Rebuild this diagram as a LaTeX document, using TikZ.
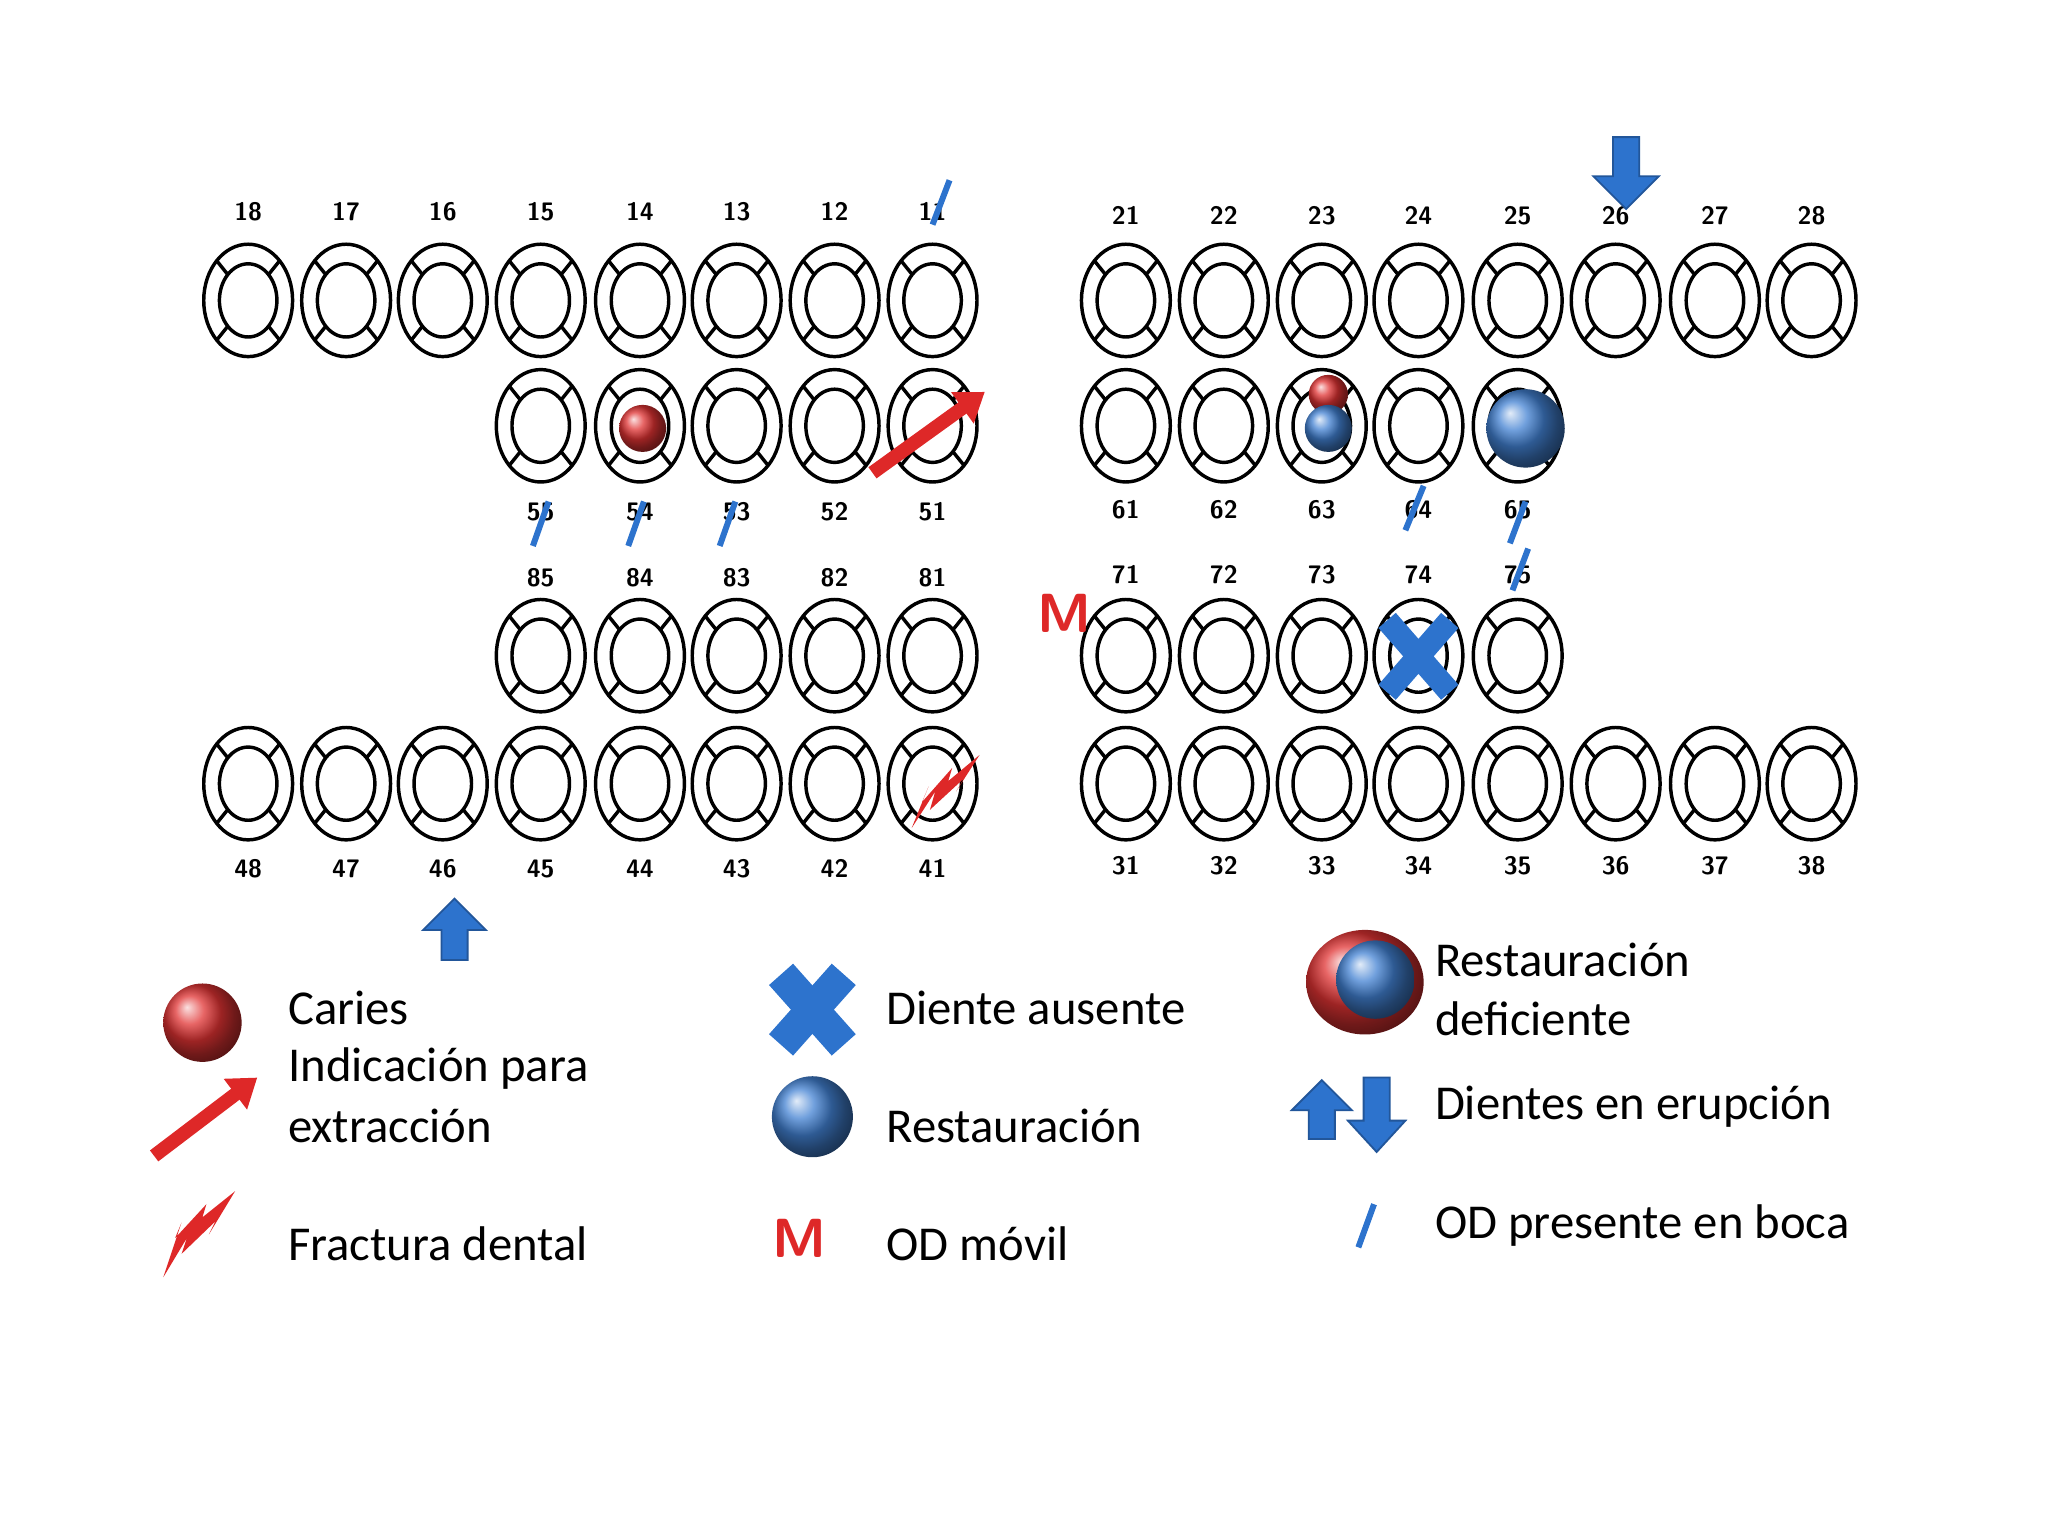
\documentclass[tikz,border=0pt]{standalone}
\usepackage{fontspec}
\setmainfont{Carlito}
\usetikzlibrary{shapes.geometric,arrows.meta}
\definecolor{rd}{RGB}{222,40,40}
\definecolor{bl}{RGB}{45,115,205}
\begin{document}
\begin{tikzpicture}[x=0.01cm,y=-0.01cm,
 tooth/.style={ellipse,draw,line width=0.75pt,minimum width=0.68cm,minimum height=0.86cm,inner sep=0pt,
  path picture={\draw[line width=0.75pt] (path picture bounding box.center) ellipse (0.22cm and 0.28cm);
   \foreach \sx/\sy in {1/1,1/-1,-1/1,-1/-1}{\draw[line width=0.75pt] ([shift={(\sx*15.6,\sy*19.8)}]path picture bounding box.center) -- ([shift={(\sx*25,\sy*31.5)}]path picture bounding box.center);}}},
 num/.style={font=\sffamily\bfseries\fontsize{5.5}{6}\selectfont,inner sep=0pt},
 lt/.style={anchor=west,font=\fontsize{10.6}{13}\selectfont,inner sep=0pt},
 slash/.style={draw=bl,line width=1.3pt},
 barrow/.style={fill=bl,draw=bl!75!black,line width=0.4pt},
 rball/.style={circle,inner sep=0pt,shading=ball,ball color=rd!95!white},
 bball/.style={circle,inner sep=0pt,shading=ball,ball color=bl!90!white}]
\useasboundingbox (0,0) rectangle (1568,1176);
\foreach \n/\x in {18/190,17/265,16/339,15/414,14/490,13/564,12/639,11/714}{
 \node[tooth] (t\n) at (\x,230) {}; \node[num] (l\n) at (\x,162) {\n};}
\foreach \n/\x in {21/862,22/937,23/1012,24/1086,25/1162,26/1237,27/1313,28/1387}{
 \node[tooth] (t\n) at (\x,230) {}; \node[num] (l\n) at (\x,165) {\n};}
\foreach \n/\x in {55/414,54/490,53/564,52/639,51/714}{
 \node[tooth] (t\n) at (\x,326) {}; \node[num] (l\n) at (\x,392) {\n};}
\foreach \n/\x in {61/862,62/937,63/1012,64/1086,65/1162}{
 \node[tooth] (t\n) at (\x,326) {}; \node[num] (l\n) at (\x,390) {\n};}
\foreach \n/\x in {85/414,84/490,83/564,82/639,81/714}{
 \node[tooth] (t\n) at (\x,502) {}; \node[num] (l\n) at (\x,442) {\n};}
\foreach \n/\x in {71/862,72/937,73/1012,74/1086,75/1162}{
 \node[tooth] (t\n) at (\x,502) {}; \node[num] (l\n) at (\x,440) {\n};}
\foreach \n/\x in {48/190,47/265,46/339,45/414,44/490,43/564,42/639,41/714}{
 \node[tooth] (t\n) at (\x,600) {}; \node[num] (l\n) at (\x,665) {\n};}
\foreach \n/\x in {31/862,32/937,33/1012,34/1086,35/1162,36/1237,37/1313,38/1387}{
 \node[tooth] (t\n) at (\x,600) {}; \node[num] (l\n) at (\x,663) {\n};}
% marks
\draw[slash] (714,172) -- (727,138);
\draw[slash] (408,418) -- (420,384);
\draw[slash] (481,418) -- (493,384);
\draw[slash] (551,418) -- (563,384);
\draw[slash] (1076,406) -- (1090,372);
\draw[slash] (1156,416) -- (1168,384);
\draw[slash] (1158,452) -- (1170,420);
\draw[barrow] (1235,105) -- (1255,105) -- (1255,135) -- (1270,135) -- (1245,160) -- (1220,135) -- (1235,135) -- cycle;
\draw[barrow] (338,735) -- (358,735) -- (358,712) -- (372,712) -- (348,688) -- (324,712) -- (338,712) -- cycle;
\node[rball,minimum size=0.36cm] (c54) at (492,328) {};
\node[rball,minimum size=0.3cm] (c63a) at (1017,302) {};
\node[bball,minimum size=0.36cm] (c63b) at (1017,328) {};
\node[bball,minimum size=0.6cm] (c65) at (1168,328) {};
\draw[rd,line width=3pt,-{Triangle[length=6pt,width=8pt]}] (668,362) -- (754,300);
\node[text=rd,font=\sffamily\bfseries\fontsize{12}{12}\selectfont,inner sep=0pt] (m71) at (815,470) {M};
\draw[bl,line width=5pt] (1062,475) -- (1110,530) (1110,475) -- (1062,530);
\fill[rd] (698,634) -- (716,606) -- (712,620) -- (738,596) -- (732,606) -- (750,578) -- (726,598) -- (729,588) -- (706,614) -- (711,602) -- cycle;
% legend
\node[rball,minimum size=0.6cm] (lc) at (155,783) {};
\node[lt] (tc) at (220,772) {Caries};
\draw[rd,line width=3pt,-{Triangle[length=6pt,width=8pt]}] (118,885) -- (197,825);
\node[lt] (te1) at (220,818) {Indicación para};
\node[lt] (te2) at (220,862) {extracción};
\fill[rd] (125,978) -- (143,948) -- (139,960) -- (165,935) -- (160,945) -- (180,912) -- (155,932) -- (158,922) -- (134,948) -- (139,936) -- cycle;
\node[lt] (tf) at (220,952) {Fractura dental};
\draw[bl,line width=7pt] (598,746) -- (646,800) (646,746) -- (598,800);
\node[lt] (tx) at (678,772) {Diente ausente};
\node[bball,minimum size=0.62cm] (lr) at (622,855) {};
\node[lt] (tr) at (678,862) {Restauración};
\node[text=rd,font=\sffamily\bfseries\fontsize{12}{12}\selectfont,inner sep=0pt] (lm) at (612,948) {M};
\node[lt] (tm) at (678,952) {OD móvil};
\node[ellipse,minimum width=0.9cm,minimum height=0.8cm,inner sep=0pt,shading=ball,ball color=rd!95!white] (ld) at (1045,752) {};
\node[bball,minimum size=0.6cm] (ldb) at (1053,750) {};
\node[lt] (td1) at (1098,735) {Restauración};
\node[lt] (td2) at (1098,780) {deficiente};
\draw[barrow] (1002,872) -- (1022,872) -- (1022,850) -- (1035,850) -- (1012,827) -- (989,850) -- (1002,850) -- cycle;
\draw[barrow] (1044,825) -- (1064,825) -- (1064,858) -- (1076,858) -- (1054,882) -- (1032,858) -- (1044,858) -- cycle;
\node[lt] (tu) at (1098,847) {Dientes en erupción};
\draw[slash] (1040,955) -- (1052,922);
\node[lt] (ts) at (1098,938) {OD presente en boca};
\end{tikzpicture}
\end{document}
